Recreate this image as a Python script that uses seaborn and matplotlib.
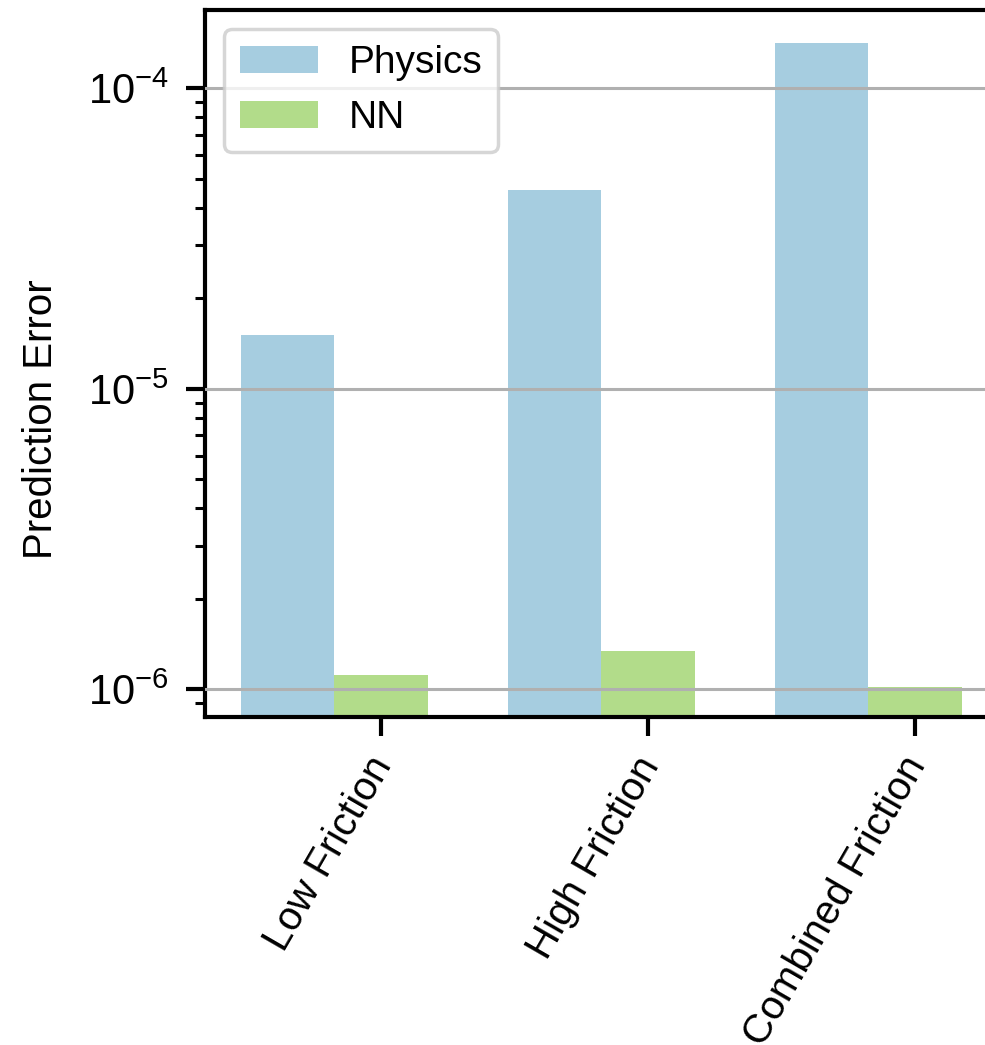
"""Grouped bar chart — physics model vs NN prediction error per friction regime."""

import matplotlib
matplotlib.use("Agg")
import matplotlib.pyplot as plt
import matplotlib.transforms as mtransforms
import numpy as np
import pandas as pd
import seaborn as sns


CONDITIONS = ["Low Friction", "High Friction", "Combined Friction"]
PHYSICS_ERR = [1.51e-5, 4.58e-5, 1.41e-4]
NN_ERR = [1.12e-6, 1.34e-6, 1.02e-6]
MODELS = ["Physics", "NN"]
COLORS = ["#a6cde0", "#b2dc8a"]


def build_frame() -> pd.DataFrame:
    """Long-form table: one row per (condition, model)."""
    rows = []
    for cond, p, n in zip(CONDITIONS, PHYSICS_ERR, NN_ERR):
        rows.append({"condition": cond, "model": "Physics", "error": p})
        rows.append({"condition": cond, "model": "NN", "error": n})
    return pd.DataFrame(rows)


def plot_errors(df: pd.DataFrame, output_path: str) -> None:
    sns.set_style("ticks")
    plt.rcParams["font.family"] = ["Liberation Sans", "DejaVu Sans"]
    plt.rcParams["mathtext.fontset"] = "custom"
    plt.rcParams["mathtext.rm"] = "Liberation Sans"
    plt.rcParams["mathtext.it"] = "Liberation Sans:italic"
    plt.rcParams["mathtext.bf"] = "Liberation Sans:bold"
    for key in ["text.color", "axes.labelcolor", "xtick.color", "ytick.color"]:
        plt.rcParams[key] = "black"

    fig = plt.figure(figsize=(9.85, 10.45), dpi=100)
    ax = fig.add_axes([0.208, 0.3139, 1.013 - 0.208, 0.9904 - 0.3139])

    width = 0.7
    sns.barplot(
        data=df,
        x="condition",
        y="error",
        hue="model",
        hue_order=MODELS,
        order=CONDITIONS,
        palette=COLORS,
        saturation=1,
        width=width,
        errorbar=None,
        linewidth=0,
        ax=ax,
    )
    ax.set_yscale("log")
    ax.set_ylim(8.1e-7, 1.82e-4)
    ax.set_xlim(-0.484, 2.485)

    for side in ["left", "bottom", "top", "right"]:
        ax.spines[side].set_linewidth(3)
        ax.spines[side].set_color("black")
    ax.tick_params(axis="x", which="major", length=14, width=3, labelsize=29, pad=10)
    ax.tick_params(axis="y", which="major", length=14, width=3, labelsize=30, pad=12)
    ax.tick_params(axis="y", which="minor", length=7, width=2.2)
    ax.tick_params(axis="x", which="minor", length=0)

    # ticks sit under the NN bar of each group
    ticks = np.arange(len(CONDITIONS)) + width / 4
    ax.set_xticks(ticks)
    ax.set_xticklabels(CONDITIONS, rotation=60, ha="right", va="top",
                       rotation_mode="anchor", fontsize=29)
    shift = mtransforms.ScaledTranslation(-0.14, 0, fig.dpi_scale_trans)
    for label in ax.get_xticklabels():
        label.set_transform(label.get_transform() + shift)
    ax.set_xlabel("")
    ax.set_ylabel("Prediction Error", fontsize=29)
    ax.yaxis.set_label_coords(-0.183, 0.4215)

    ax.yaxis.grid(True, which="major", color="#b0b0b0", linewidth=2.2)
    ax.set_axisbelow(False)

    leg = ax.legend(loc="upper left", fontsize=28, frameon=True, fancybox=True)
    leg.get_frame().set_linewidth(2.5)
    leg.get_frame().set_edgecolor("#cccccc")

    fig.savefig(output_path, dpi=100)


if __name__ == "__main__":
    plot_errors(build_frame(), "out.png")
